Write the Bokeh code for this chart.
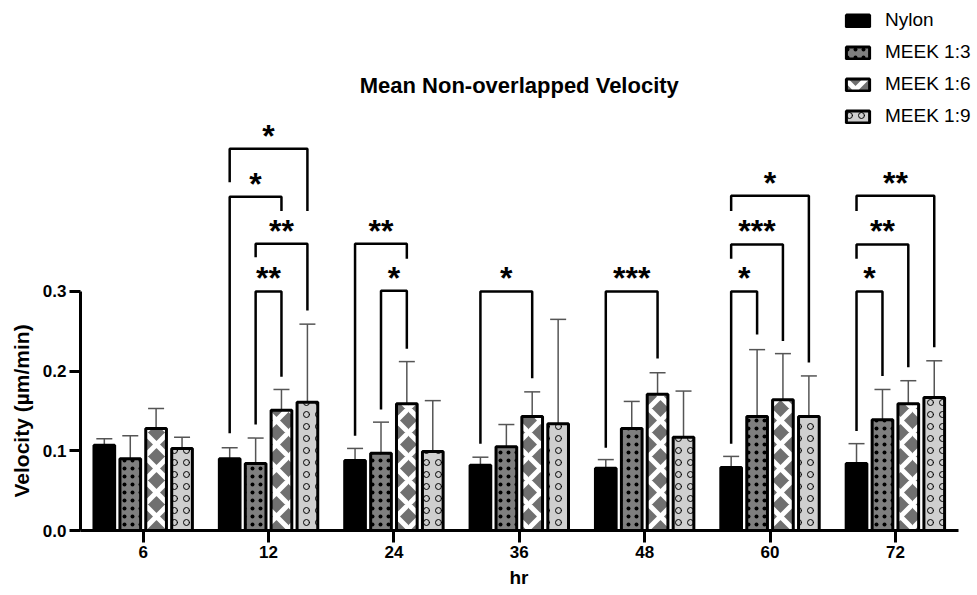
from bokeh.plotting import figure
from bokeh.models import (Range1d, FixedTicker, NumeralTickFormatter, Whisker, TeeHead,
                          ColumnDataSource, Legend, LegendItem, Title)
from bokeh.core.properties import value
from bokeh.embed import file_html
from bokeh.resources import INLINE

# ---------------- data ----------------
groups = ["6", "12", "24", "36", "48", "60", "72"]
series = ["Nylon", "MEEK 1:3", "MEEK 1:6", "MEEK 1:9"]

nylon = [0.107, 0.090, 0.088, 0.082, 0.078, 0.079, 0.084]
nylon_upper = [0.115, 0.104, 0.103, 0.092, 0.089, 0.093, 0.109]
meek13 = [0.090, 0.084, 0.097, 0.105, 0.128, 0.143, 0.139]
meek13_upper = [0.119, 0.116, 0.136, 0.133, 0.162, 0.227, 0.177]
meek16 = [0.128, 0.151, 0.159, 0.143, 0.171, 0.164, 0.159]
meek16_upper = [0.153, 0.177, 0.212, 0.174, 0.198, 0.222, 0.188]
meek19 = [0.103, 0.161, 0.099, 0.134, 0.117, 0.143, 0.167]
meek19_upper = [0.117, 0.259, 0.163, 0.265, 0.175, 0.194, 0.213]

# significance brackets: (group, bar_a, bar_b, top, left_leg_end, right_leg_end, label)
brackets = [
    (1, 0, 3, 0.479, 0.437, 0.401, "*"),
    (1, 0, 2, 0.419, 0.122, 0.401, "*"),
    (1, 1, 3, 0.360, 0.343, 0.276, "**"),
    (1, 1, 2, 0.300, 0.133, 0.193, "**"),
    (2, 0, 2, 0.360, 0.119, 0.341, "**"),
    (2, 1, 2, 0.301, 0.152, 0.228, "*"),
    (3, 0, 2, 0.300, 0.109, 0.191, "*"),
    (4, 0, 2, 0.300, 0.104, 0.216, "***"),
    (5, 0, 3, 0.420, 0.401, 0.211, "*"),
    (5, 0, 2, 0.359, 0.341, 0.238, "***"),
    (5, 0, 1, 0.300, 0.109, 0.246, "*"),
    (6, 0, 3, 0.420, 0.401, 0.230, "**"),
    (6, 0, 2, 0.359, 0.341, 0.205, "**"),
    (6, 0, 1, 0.300, 0.125, 0.194, "*"),
]

title_text = "Mean Non-overlapped Velocity"
y_label = "Velocity (µm/min)"
x_label = "hr"

# ---------------- layout ----------------
offsets = [-0.31, -0.103, 0.103, 0.31]
bar_w = 0.165
FONT = "Liberation Sans"

p = figure(width=977, height=595, output_backend="svg", toolbar_location=None,
           x_range=Range1d(-0.5, 6.655), y_range=Range1d(0, 0.6627),
           min_border_left=80, min_border_right=0, min_border_top=2, min_border_bottom=65)
p.outline_line_color = None
p.grid.visible = False
p.background_fill_color = "white"

styles = [
    dict(fill_color="black"),
    dict(fill_color="#7f7f7f", hatch_pattern="dot", hatch_color="black", hatch_scale=8, hatch_weight=2.5),
    dict(fill_color="#707070", hatch_pattern="diagonal_cross", hatch_color="white", hatch_scale=24, hatch_weight=5),
    dict(fill_color="#cfcfcf", hatch_pattern="ring", hatch_color="black", hatch_scale=12, hatch_weight=1),
]
means = [nylon, meek13, meek16, meek19]
uppers = [nylon_upper, meek13_upper, meek16_upper, meek19_upper]

items = []
for k in range(4):
    xs = [g + offsets[k] for g in range(len(groups))]
    src = ColumnDataSource(dict(x=xs, top=means[k], upper=uppers[k]))
    w = Whisker(source=src, base="x", lower="top", upper="upper", dimension="height",
                line_color="#555555", line_width=1.5,
                upper_head=TeeHead(size=16, line_color="#555555", line_width=1.5),
                lower_head=None)
    p.add_layout(w)
    r = p.vbar(x="x", top="top", width=bar_w, bottom=0, source=src,
               line_color="black", line_width=3, **styles[k])
    items.append(LegendItem(label=series[k], renderers=[r]))

# brackets
bx, by, tx, ty, tl = [], [], [], [], []
for g, a, b, top, la, lb, lab in brackets:
    xa = g + offsets[a]
    xb = g + offsets[b]
    bx.append([xa, xa, xb, xb])
    by.append([la, top, top, lb])
    tx.append((xa + xb) / 2)
    ty.append(top)
    tl.append(lab)
p.multi_line(xs=bx, ys=by, line_color="black", line_width=2.5)
p.text(x=tx, y=ty, text=tl, text_align="center", text_baseline="alphabetic",
       y_offset=-13, text_font=value(FONT), text_font_style="bold",
       text_font_size="32px", text_color="black")

# title
p.text(x=[3.0], y=[0.5586], text=[title_text], text_align="center", text_baseline="middle",
       text_font=value(FONT), text_font_style="bold", text_font_size="22px", text_color="black")

# axes
for ax in (p.xaxis[0], p.yaxis[0]):
    ax.axis_line_width = 3
    ax.axis_line_color = "black"
    ax.major_tick_line_width = 3
    ax.major_tick_line_color = "black"
    ax.minor_tick_line_color = None
    ax.major_tick_in = 0
    ax.major_label_text_font = FONT
    ax.major_label_text_font_style = "bold"
    ax.major_label_text_font_size = "17px"
    ax.major_label_text_color = "black"

p.xaxis.ticker = FixedTicker(ticks=list(range(len(groups))))
p.xaxis.major_label_overrides = {i: g for i, g in enumerate(groups)}
p.xaxis.bounds = (-0.5, 6.5)
p.xaxis.major_tick_out = 12
p.xaxis.major_label_standoff = 3

p.yaxis.ticker = FixedTicker(ticks=[0.0, 0.1, 0.2, 0.3])
p.yaxis.formatter = NumeralTickFormatter(format="0.0")
p.yaxis.bounds = (0, 0.3)
p.yaxis.major_tick_out = 11
p.yaxis.major_label_standoff = 3

# axis titles placed along the axis extents
p.add_layout(Title(text=y_label, align="left", offset=33, text_font=FONT,
                   text_font_style="bold", text_font_size="21px", text_color="black",
                   standoff=14), "left")
p.add_layout(Title(text=x_label, align="left", offset=429, text_font=FONT,
                   text_font_style="bold", text_font_size="19px", text_color="black",
                   standoff=9), "below")

legend = Legend(items=items, location=(763, 403), orientation="vertical",
                glyph_width=29, glyph_height=15, label_standoff=13, spacing=10,
                padding=0, margin=0, border_line_color=None, background_fill_alpha=0,
                label_text_font=FONT, label_text_font_size="19px", label_text_color="black",
                label_height=22)
p.add_layout(legend)

open("out.html", "w").write(file_html(p, INLINE))
